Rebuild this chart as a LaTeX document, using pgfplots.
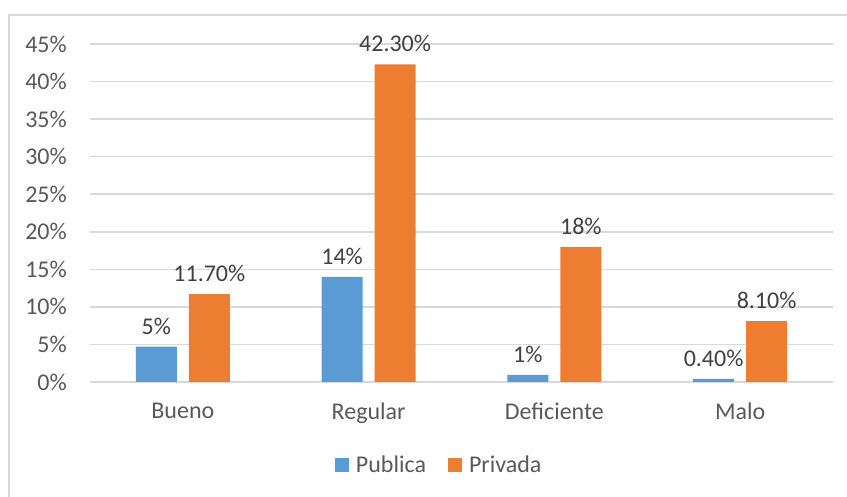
\documentclass[border=0pt]{standalone}
\usepackage{pgfplots}
\pgfplotsset{compat=1.18}
\usepackage{fontspec}
\setmainfont{Carlito}
\definecolor{cpub}{HTML}{5B9BD5}
\definecolor{cpriv}{HTML}{ED7D31}
\definecolor{cgrid}{HTML}{D9D9D9}
\definecolor{ctxt}{HTML}{595959}
\definecolor{clab}{HTML}{404040}
\begin{document}
\begin{tikzpicture}[x=1pt,y=1pt]
\path[use as bounding box] (0,0) rectangle (847,497);
\fill[white] (0,0) rectangle (847,497);
\draw[cgrid, line width=2pt] (8.5,-5) -- (8.5,482) -- (852,482);
\begin{axis}[
  at={(90pt,115pt)}, anchor=south west,
  scale only axis, width=743pt, height=338pt,
  ybar=12pt, bar width=41pt,
  xmin=-0.5, xmax=3.5, ymin=0, ymax=45,
  xtick=data, xticklabels={Bueno,Regular,Deficiente,Malo},
  ytick={0,5,...,45},
  yticklabel={\pgfmathprintnumber{\tick}\%},
  /pgf/number format/assume math mode=true,
  font=\fontsize{24}{28}\selectfont,
  tick label style={text=ctxt},
  yticklabel style={inner sep=0pt, xshift=-23pt},
  xticklabel style={inner sep=0pt, yshift=-21pt},
  major tick length=0pt,
  axis line style={draw=none},
  ymajorgrids, grid style={cgrid, line width=1.5pt},
  point meta=explicit symbolic,
  nodes near coords,
  nodes near coords style={text=clab, font=\fontsize{24}{28}\selectfont, inner sep=0pt, yshift=12pt},
  legend style={at={(0.47,-0.2456)}, anchor=center, draw=none, fill=none,
    legend columns=2, text=ctxt, font=\fontsize{24}{28}\selectfont,
    /tikz/every odd column/.append style={column sep=5pt},
    /tikz/every even column/.append style={column sep=20pt},
    cells={anchor=west}},
  legend image code/.code={\fill[#1] (0pt,-7pt) rectangle (14pt,7pt);},
]
\draw[cgrid, line width=1.5pt] (axis cs:-0.5,0) -- (axis cs:3.5,0);
\addplot[fill=cpub, draw=none] coordinates {(0,4.7) [5\%] (1,14) [14\%] (2,0.95) [1\%] (3,0.4) [0.40\%]};
\addplot[fill=cpriv, draw=none] coordinates {(0,11.7) [11.70\%] (1,42.3) [42.30\%] (2,18) [18\%] (3,8.1) [8.10\%]};
\legend{Publica,Privada}
\end{axis}
\end{tikzpicture}
\end{document}
